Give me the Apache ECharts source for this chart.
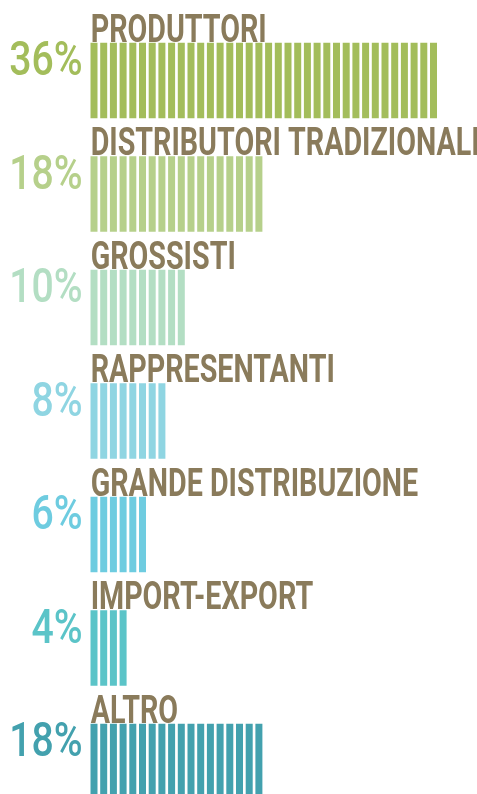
<!DOCTYPE html>
<html>
<head>
<meta charset="utf-8">
<script src="https://cdn.jsdelivr.net/npm/echarts@6/dist/echarts.min.js"></script>
<style>
  html, body { margin: 0; padding: 0; background: #fff; }
  #chart { width: 477px; height: 794px; }
</style>
</head>
<body>
<div id="chart"></div>
<script>
  // canali di vendita, in percentuale
  var categories = ['PRODUTTORI', 'DISTRIBUTORI TRADIZIONALI', 'GROSSISTI', 'RAPPRESENTANTI', 'GRANDE DISTRIBUZIONE', 'IMPORT-EXPORT', 'ALTRO']
  var values = [36, 18, 10, 8, 6, 4, 18]
  var colors = ['#a3bd5b', '#b6d08b', '#b3dec3', '#8fd5e2', '#6ecce0', '#5bc4c8', '#43a1ae']

  var barHeight = 75.5
  var chart = echarts.init(document.getElementById('chart'))

  chart.setOption({
    animation: false,
    grid: { left: 89.15, right: 38.65, top: 80.5, bottom: 32.5 },
    xAxis: { type: 'value', min: 0, max: 36, show: false },
    yAxis: {
      type: 'category',
      inverse: true,
      boundaryGap: false,
      data: categories,
      show: false
    },
    series: [
      {
        type: 'pictorialBar',
        symbol: 'rect',
        symbolSize: [7, barHeight],
        symbolRepeat: true,
        // una striscia per punto percentuale
        symbolMargin: '1.36!',
        data: values.map(function (v, i) {
          return { value: v, itemStyle: { color: colors[i] } }
        })
      }
    ]
  })

  // etichette condensate: posizionate dalle scale del grafico
  var labels = []
  categories.forEach(function (name, i) {
    var p = chart.convertToPixel({ gridIndex: 0 }, [0, i])
    var top = p[1] - barHeight / 2
    labels.push({
      type: 'text',
      x: p[0] + 1.5,
      y: top - 11,
      scaleX: 0.735,
      style: {
        text: name,
        fill: '#8a7b5b',
        fontFamily: 'Roboto',
        fontWeight: 'bold',
        fontSize: 39,
        align: 'left',
        verticalAlign: 'middle'
      }
    })
    labels.push({
      type: 'text',
      x: p[0] - 6.5,
      y: top + 20,
      scaleX: 0.8,
      style: {
        text: values[i] + '%',
        fill: colors[i],
        fontFamily: 'Roboto',
        fontWeight: 500,
        fontSize: 49,
        align: 'right',
        verticalAlign: 'middle'
      }
    })
  })
  chart.setOption({ graphic: labels })
</script>
</body>
</html>
